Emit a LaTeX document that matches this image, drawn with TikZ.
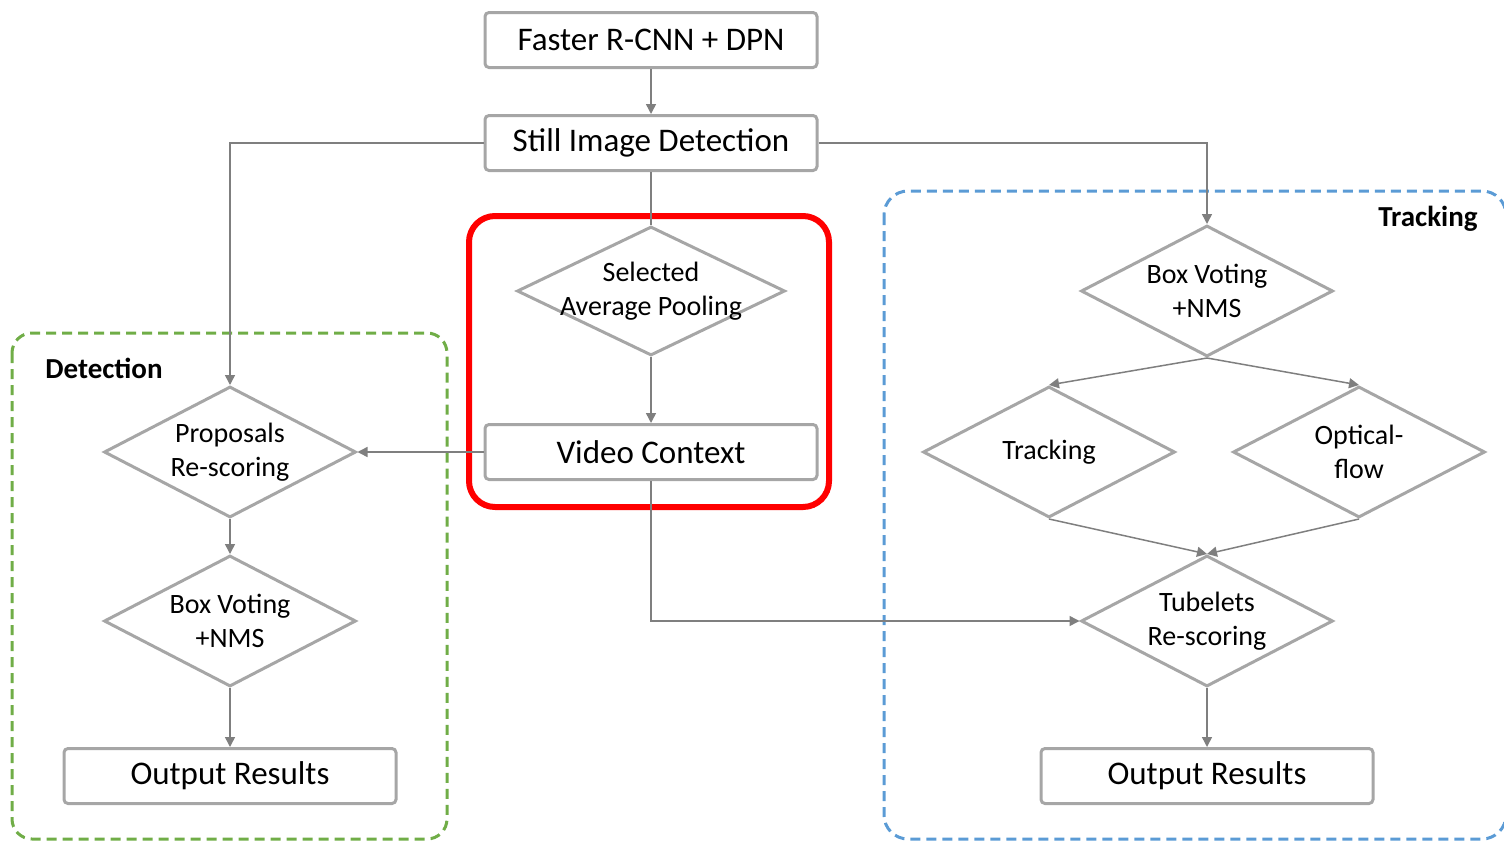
\documentclass[tikz,border=0pt]{standalone}
\usepackage{fontspec}
\setmainfont{Carlito}
\usetikzlibrary{shapes.geometric,arrows.meta}
\definecolor{boxgray}{HTML}{A6A6A6}
\definecolor{linegray}{HTML}{7F7F7F}
\definecolor{detgreen}{HTML}{70AD47}
\definecolor{trkblue}{HTML}{5B9BD5}
\tikzset{
  procbox/.style={draw=boxgray, line width=1.5pt, rounded corners=2pt, fill=white,
    minimum width=166pt, minimum height=27.5pt, inner sep=0pt,
    font=\fontsize{16.5}{19}\selectfont},
  decision/.style={draw=boxgray, line width=1.5pt, diamond, fill=white, inner sep=0pt,
    minimum width=126pt, minimum height=65.5pt, aspect=1.92, align=center,
    font=\fontsize{14}{17}\selectfont},
  conn/.style={draw=linegray, line width=0.75pt},
  arr/.style={conn, -{Triangle[length=5pt,width=5pt]}},
  grouplabel/.style={font=\fontsize{14.5}{16}\selectfont\bfseries, inner sep=0pt},
}
\begin{document}
\begin{tikzpicture}[x=0.5pt,y=-0.5pt]
\useasboundingbox (0,0) rectangle (1504,841);
% groups
\draw[detgreen, line width=1.5pt, dash pattern=on 5pt off 3pt, rounded corners=10pt] (12,333) rectangle (447,839);
\draw[trkblue, line width=1.5pt, dash pattern=on 5pt off 3pt, rounded corners=12pt] (884,191) rectangle (1506,839);
\draw[red, line width=3pt, rounded corners=13pt] (469,216) rectangle (829,507);
\node[grouplabel, anchor=west] (detlbl) at (45,368) {Detection};
\node[grouplabel, anchor=east] (trklbl) at (1478,219) {Tracking};
% nodes
\node[procbox] (faster) at (651,40) {Faster R-CNN + DPN};
\node[procbox] (still) at (651,143) {Still Image Detection};
\node[decision, minimum width=134pt, minimum height=64.5pt, aspect=2.08] (sap) at (651,291) {\makebox[0pt]{Selected}\\\makebox[0pt]{Average Pooling}};
\node[procbox] (video) at (651,452) {Video Context};
\node[decision] (prop) at (230,452) {Proposals\\Re-scoring};
\node[decision] (bvl) at (230,621) {Box Voting\\+NMS};
\node[procbox] (outl) at (230,776) {Output Results};
\node[decision] (bvr) at (1207,291) {Box Voting\\+NMS};
\node[decision] (trk) at (1049,452) {Tracking};
\node[decision] (opt) at (1359,452) {Optical-\\flow};
\node[decision] (tub) at (1207,621) {Tubelets\\Re-scoring};
\node[procbox] (outr) at (1207,776) {Output Results};
% connectors
\draw[arr] (faster) -- (still);
\draw[arr] (still.west) -| (prop.north);
\draw[arr] (still.east) -| (bvr.north);
\draw[conn] (still) -- (sap.north);
\draw[arr] (sap.south) -- (video.north);
\draw[arr] (video.west) -- (prop.east);
\draw[arr] (video.south) |- (tub.west);
\draw[arr] (prop.south) -- (bvl.north);
\draw[arr] (bvl.south) -- (outl.north);
\draw[arr] (bvr.south) -- (trk.north);
\draw[arr] (bvr.south) -- (opt.north);
\draw[arr] (trk.south) -- (tub.north);
\draw[arr] (opt.south) -- (tub.north);
\draw[arr] (tub.south) -- (outr.north);
\end{tikzpicture}
\end{document}
